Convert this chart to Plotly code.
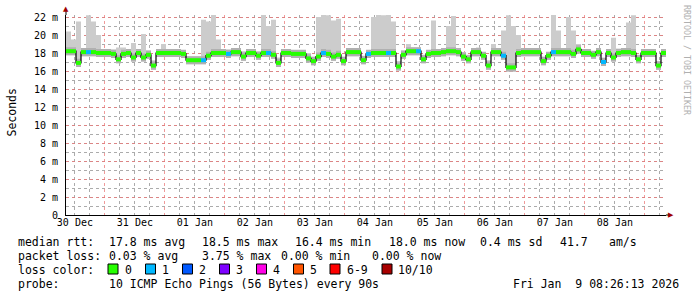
import plotly.graph_objects as go
from datetime import datetime, timedelta

# ---------------- data ----------------
START = datetime(2025, 12, 30, 8, 26, 13)
END = datetime(2026, 1, 9, 8, 26, 13)
BIN_HOURS = 2

median_ms = [
    18.2, 18.2, 16.9, 18.1, 18.1, 18.1, 18.0, 18.0, 18.0, 17.9,
    17.3, 17.9, 18.0, 17.5, 18.0, 17.5, 17.8, 16.6, 18.0, 18.0,
    18.0, 18.0, 18.0, 17.9, 17.2, 17.2, 17.2, 17.2, 17.7, 18.0,
    18.0, 18.0, 17.9, 18.1, 18.1, 17.6, 18.0, 18.0, 17.7, 18.0,
    18.0, 17.8, 16.9, 18.0, 18.0, 17.9, 17.9, 17.9, 17.4, 17.1,
    17.6, 18.0, 17.9, 17.6, 17.8, 17.1, 18.1, 18.1, 18.1, 17.2,
    17.9, 18.0, 18.0, 18.0, 18.0, 18.0, 16.5, 17.8, 18.2, 18.2,
    18.2, 17.3, 17.9, 18.0, 18.0, 18.1, 18.2, 18.2, 18.1, 17.6,
    17.3, 18.1, 18.1, 17.7, 16.6, 18.1, 18.1, 17.7, 16.4, 16.4,
    18.0, 18.1, 18.1, 18.1, 18.1, 17.1, 17.7, 18.1, 18.1, 18.1,
    18.1, 17.9, 18.4, 18.0, 18.0, 17.8, 18.1, 17.0, 18.0, 17.5,
    18.0, 18.1, 18.1, 18.0, 17.3, 18.0, 18.0, 18.0, 16.6, 18.0,
]

smoke_max_ms = [
    20.4, 19.5, 21.5, 18.5, 22.2, 21.5, 20.0, 18.4, 18.4, 18.4,
    18.6, 18.6, 18.4, 19.1, 18.4, 20.1, 18.3, 17.2, 18.4, 19.0,
    18.4, 18.4, 18.4, 18.3, 17.6, 17.6, 17.6, 21.7, 21.5, 22.3,
    19.5, 18.4, 18.4, 18.5, 18.5, 18.2, 18.4, 18.4, 18.2, 22.3,
    21.0, 21.7, 17.5, 18.4, 18.4, 18.3, 18.3, 18.3, 18.0, 17.6,
    22.0, 22.3, 22.2, 21.6, 21.8, 17.6, 18.5, 18.5, 18.5, 17.7,
    18.3, 22.0, 22.3, 22.2, 22.3, 21.5, 17.1, 18.3, 19.0, 18.6,
    18.6, 17.8, 18.3, 21.6, 18.4, 18.5, 21.0, 22.1, 18.5, 18.1,
    17.8, 18.5, 18.6, 18.1, 17.2, 19.0, 18.5, 20.5, 22.2, 21.0,
    20.0, 18.5, 18.5, 18.5, 18.5, 17.6, 18.1, 22.3, 20.5, 18.5,
    22.0, 20.5, 19.0, 18.4, 18.4, 18.2, 18.5, 17.5, 18.4, 19.7,
    18.5, 18.5, 21.4, 22.2, 17.8, 18.4, 18.4, 18.4, 17.1, 18.4,
]

loss_count = [
    0, 0, 0, 0, 1, 0, 0, 0, 0, 0,
    0, 0, 0, 0, 0, 0, 0, 0, 0, 0,
    0, 0, 0, 0, 0, 0, 0, 1, 0, 0,
    0, 0, 1, 0, 0, 0, 0, 0, 0, 0,
    1, 0, 0, 0, 0, 0, 0, 0, 0, 0,
    0, 1, 0, 0, 0, 0, 0, 0, 0, 0,
    1, 0, 0, 0, 1, 0, 0, 0, 0, 0,
    1, 0, 0, 0, 0, 0, 0, 0, 0, 0,
    0, 0, 0, 0, 0, 0, 0, 1, 0, 0,
    0, 0, 0, 0, 0, 0, 0, 1, 0, 0,
    0, 0, 0, 0, 0, 0, 0, 1, 0, 0,
    0, 0, 0, 0, 0, 0, 0, 0, 0, 0,
]

loss_labels = ["0", "1", "2", "3", "4", "5", "6-9", "10/10"]
loss_colors = ["#26ff00", "#00b8ff", "#0059ff", "#7e00ff",
               "#ff00e6", "#ff5500", "#ff0000", "#a80000"]

x_ticklabels = ["30 Dec", "31 Dec", "01 Jan", "02 Jan", "03 Jan",
                "04 Jan", "05 Jan", "06 Jan", "07 Jan", "08 Jan"]
FIRST_LABEL_NOON = datetime(2025, 12, 30, 12, 0, 0)

y_tickvals = [0, 2, 4, 6, 8, 10, 12, 14, 16, 18, 20, 22]
y_ticktext = ["0", "2 m", "4 m", "6 m", "8 m", "10 m", "12 m",
              "14 m", "16 m", "18 m", "20 m", "22 m"]

legend_rtt = [("median rtt:", 16), ("17.8 ms avg", 107), ("18.5 ms max", 200),
              ("16.4 ms min", 292.7), ("18.0 ms now", 386.7), ("0.4 ms sd", 478.3),
              ("41.7", 558.3), ("am/s", 606.7)]
legend_loss = [("packet loss:", 16), ("0.03 % avg", 107), ("3.75 % max", 200),
               ("0.00 % min", 279.3), ("0.00 % now", 370)]
probe_text = "10 ICMP Echo Pings (56 Bytes) every 90s"
stamp_text = "Fri Jan  9 08:26:13 2026"

# ---------------- geometry helpers (pixels -> paper) ----------------
W, H = 697, 297
L, R, T, B = 66, 31, 15, 82
PW, PH = W - L - R, H - T - B


def px(xp):
    return (xp - L) / PW


def py(yp):
    return (H - B - yp) / PH


def mono(s):
    return s.replace(" ", "\u00a0")


def loss_index(c):
    if c < 6:
        return c
    return 6 if c < 10 else 7


FONT = "DejaVu Sans Mono"

n = len(median_ms)
bin_starts = [START + timedelta(hours=BIN_HOURS * i) for i in range(n)]
edges = bin_starts + [END]

BAND = 0.45   # smoke band half width around median

med_step = median_ms + [median_ms[-1]]
lo_step = [m - BAND for m in med_step]
hi_band = [m + BAND for m in med_step]
max_step = smoke_max_ms + [smoke_max_ms[-1]]

fig = go.Figure()

# light smoke (spread of pings)
fig.add_trace(go.Scatter(x=edges, y=lo_step, mode="lines", line=dict(width=0, shape="hv"),
                         hoverinfo="skip", showlegend=False))
fig.add_trace(go.Scatter(x=edges, y=max_step, mode="lines", line=dict(width=0, shape="hv"),
                         fill="tonexty", fillcolor="#cccccc", hoverinfo="skip", showlegend=False))
# darker smoke near median
fig.add_trace(go.Scatter(x=edges, y=lo_step, mode="lines", line=dict(width=0, shape="hv"),
                         hoverinfo="skip", showlegend=False))
fig.add_trace(go.Scatter(x=edges, y=hi_band, mode="lines", line=dict(width=0, shape="hv"),
                         fill="tonexty", fillcolor="#b0b0b0", hoverinfo="skip", showlegend=False))
# median line
fig.add_trace(go.Scatter(x=edges, y=med_step, mode="lines",
                         line=dict(color="#000000", width=1.2, shape="hv"),
                         hoverinfo="skip", showlegend=False))
# loss-colour band: one horizontal segment per bin, coloured by loss
for k, col in enumerate(loss_colors):
    xs, ys = [], []
    for i in range(n):
        if loss_index(loss_count[i]) == k:
            xs += [edges[i], edges[i + 1], None]
            ys += [median_ms[i], median_ms[i], None]
    if xs:
        fig.add_trace(go.Scatter(x=xs, y=ys, mode="lines", connectgaps=False,
                                 line=dict(color=col, width=4),
                                 hoverinfo="skip", showlegend=False))

# invisible trace on label axis so it is drawn
label_pos = [FIRST_LABEL_NOON + timedelta(days=k) for k in range(len(x_ticklabels))]
fig.add_trace(go.Scatter(x=[START, END], y=[0, 0], xaxis="x2", mode="lines",
                         line=dict(width=0), hoverinfo="skip", showlegend=False))

# ---------------- annotations ----------------
ann = []
for text, x0 in legend_rtt:
    ann.append(dict(text=mono(text), x=px(x0), y=py(241.5), xanchor="left", yanchor="middle"))
for text, x0 in legend_loss:
    ann.append(dict(text=mono(text), x=px(x0), y=py(255.5), xanchor="left", yanchor="middle"))
ann.append(dict(text=mono("loss color:"), x=px(16), y=py(269.5), xanchor="left", yanchor="middle"))
ann.append(dict(text=mono("probe:"), x=px(16), y=py(283.5), xanchor="left", yanchor="middle"))
ann.append(dict(text=mono(probe_text), x=px(107), y=py(283.5), xanchor="left", yanchor="middle"))
ann.append(dict(text=mono(stamp_text), x=px(681), y=py(283.5), xanchor="right", yanchor="middle"))

sq_x = [108, 145.5, 182.5, 219.5, 256.5, 293.5, 330, 382]
lab_x = [123, 160, 197, 234, 271, 308, 345, 396]
shapes = []
for lab, col, sx, lx in zip(loss_labels, loss_colors, sq_x, lab_x):
    shapes.append(dict(type="rect", xref="paper", yref="paper",
                       x0=px(sx), x1=px(sx + 10), y0=py(274), y1=py(264),
                       fillcolor=col, line=dict(color="#000000", width=1)))
    ann.append(dict(text=mono(lab), x=px(lx), y=py(269.5), xanchor="left", yanchor="middle"))

# axis line extensions toward the arrow heads
shapes.append(dict(type="line", xref="paper", yref="paper", x0=0, x1=0,
                   y0=1, y1=py(10), line=dict(color="#000000", width=1)))
shapes.append(dict(type="line", xref="paper", yref="paper", x0=1, x1=px(669),
                   y0=0, y1=0, line=dict(color="#000000", width=1)))

for a in ann:
    a.update(xref="paper", yref="paper", showarrow=False,
             font=dict(family=FONT, size=11.5, color="#000000"))

# y title
ann.append(dict(text="Seconds", xref="paper", yref="paper", x=px(11.5), y=py(113),
                textangle=-90, showarrow=False, xanchor="center", yanchor="middle",
                font=dict(family=FONT, size=11.5, color="#000000")))
# watermark
ann.append(dict(text=mono("RRDTOOL / TOBI OETIKER"), xref="paper", yref="paper",
                x=px(687), y=py(60), textangle=90, showarrow=False,
                xanchor="center", yanchor="middle",
                font=dict(family=FONT, size=8.3, color="#b0b0b0")))
# axis arrows
ann.append(dict(text="\u25b2", xref="paper", yref="paper", x=px(66), y=py(9),
                showarrow=False, xanchor="center", yanchor="middle",
                font=dict(family="DejaVu Sans", size=7, color="#a00000")))
ann.append(dict(text="\u25b6", xref="paper", yref="paper", x=px(671), y=py(215),
                showarrow=False, xanchor="center", yanchor="middle",
                font=dict(family="DejaVu Sans", size=7, color="#a00000")))

MAJOR_GRID = "rgba(235,120,120,0.75)"
MINOR_GRID = "rgba(150,150,150,0.8)"

fig.update_layout(
    width=W, height=H,
    margin=dict(l=L, r=R, t=T, b=B, pad=0),
    paper_bgcolor="#ffffff", plot_bgcolor="#ffffff",
    showlegend=False,
    annotations=ann, shapes=shapes,
    xaxis=dict(
        type="date", range=[START, END],
        tick0="2025-12-31 00:00:00", dtick=86400000,
        showticklabels=False,
        showgrid=True, gridcolor=MAJOR_GRID, griddash="dot", gridwidth=1,
        minor=dict(dtick=6 * 3600 * 1000, tick0="2025-12-31 00:00:00",
                   showgrid=True, gridcolor=MINOR_GRID, griddash="dot", gridwidth=1),
        showline=True, linecolor="#000000", linewidth=1,
        ticks="", zeroline=False,
        fixedrange=True,
    ),
    xaxis2=dict(
        type="date", range=[START, END], overlaying="x", side="bottom",
        tickmode="array", tickvals=label_pos, ticktext=x_ticklabels,
        showgrid=False, showline=False, ticks="", zeroline=False,
        tickfont=dict(family=FONT, size=10, color="#000000"),
        fixedrange=True,
    ),
    yaxis=dict(
        range=[0, PH / 9.0],
        tickmode="array", tickvals=y_tickvals, ticktext=y_ticktext,
        showgrid=True, gridcolor=MAJOR_GRID, griddash="dot", gridwidth=1,
        minor=dict(dtick=1, tick0=0, showgrid=True, gridcolor=MINOR_GRID,
                   griddash="dot", gridwidth=1),
        showline=True, linecolor="#000000", linewidth=1,
        ticks="", zeroline=False, ticklabelstandoff=5,
        tickfont=dict(family=FONT, size=10, color="#000000"),
        fixedrange=True,
    ),
)

fig.write_html("out.html")
